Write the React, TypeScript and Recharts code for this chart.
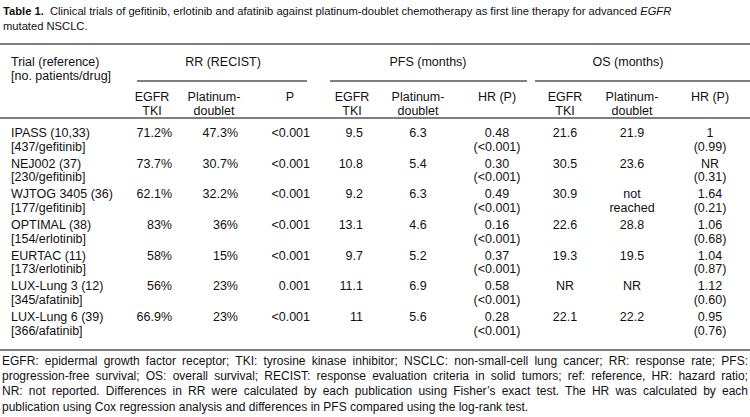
// Table 1 recreated as a Recharts scatter "grid": every cell is a point drawn as text

import { ScatterChart, Scatter, XAxis, YAxis, ReferenceLine } from "recharts";

const trials = [
  "IPASS (10,33)",
  "NEJ002 (37)",
  "WJTOG 3405 (36)",
  "OPTIMAL (38)",
  "EURTAC (11)",
  "LUX-Lung 3 (12)",
  "LUX-Lung 6 (39)",
];
const trialInfo = [
  "[437/gefitinib]",
  "[230/gefitinib]",
  "[177/gefitinib]",
  "[154/erlotinib]",
  "[173/erlotinib]",
  "[345/afatinib]",
  "[366/afatinib]",
];
const rrTki = ["71.2%", "73.7%", "62.1%", "83%", "58%", "56%", "66.9%"];
const rrPlatinum = ["47.3%", "30.7%", "32.2%", "36%", "15%", "23%", "23%"];
const rrP = ["<0.001", "<0.001", "<0.001", "<0.001", "<0.001", "0.001", "<0.001"];
const pfsTki = ["9.5", "10.8", "9.2", "13.1", "9.7", "11.1", "11"];
const pfsPlatinum = ["6.3", "5.4", "6.3", "4.6", "5.2", "6.9", "5.6"];
const pfsHr = ["0.48", "0.30", "0.49", "0.16", "0.37", "0.58", "0.28"];
const pfsHrP = ["(<0.001)", "(<0.001)", "(<0.001)", "(<0.001)", "(<0.001)", "(<0.001)", "(<0.001)"];
const osTki = ["21.6", "30.5", "30.9", "22.6", "19.3", "NR", "22.1"];
const osPlatinum = ["21.9", "23.6", "not\nreached", "28.8", "19.5", "NR", "22.2"];
const osHr = ["1", "NR", "1.64", "1.06", "1.04", "1.12", "0.95"];
const osHrP = ["(0.99)", "(0.31)", "(0.21)", "(0.68)", "(0.87)", "(0.60)", "(0.76)"];

const groupHeaders = ["RR (RECIST)", "PFS (months)", "OS (months)"];
const subHeaders = [
  "EGFR\nTKI", "Platinum-\ndoublet", "P",
  "EGFR\nTKI", "Platinum-\ndoublet", "HR (P)",
  "EGFR\nTKI", "Platinum-\ndoublet", "HR (P)",
];

// layout (pixels)
const W = 750;
const H = 417;
const ROW0 = 132.5;
const PITCH = 30.7;
const LINE = 13.8;
const FONT = "'Liberation Sans', Arial, Helvetica, sans-serif";

const columns = [
  { lines: (i: number) => [trials[i], trialInfo[i]], x: 11, anchor: "start" },
  { lines: (i: number) => [rrTki[i]], x: 172, anchor: "end" },
  { lines: (i: number) => [rrPlatinum[i]], x: 238, anchor: "end" },
  { lines: (i: number) => [rrP[i]], x: 310, anchor: "end" },
  { lines: (i: number) => [pfsTki[i]], x: 363, anchor: "end" },
  { lines: (i: number) => [pfsPlatinum[i]], x: 418, anchor: "middle" },
  { lines: (i: number) => [pfsHr[i], pfsHrP[i]], x: 497, anchor: "middle" },
  { lines: (i: number) => [osTki[i]], x: 565, anchor: "middle" },
  { lines: (i: number) => osPlatinum[i].split("\n"), x: 632, anchor: "middle" },
  { lines: (i: number) => [osHr[i], osHrP[i]], x: 710, anchor: "middle" },
];

const subHeaderX = [152, 214, 290, 352, 418, 497, 565, 632, 710];
const groupHeaderX = [223, 428, 628];
const groupRules = [
  [137, 307],
  [330, 527],
  [535, 750],
];

const bodyCells = columns.flatMap((col) =>
  trials.map((_, i) => ({
    x: col.x,
    y: ROW0 + i * PITCH,
    lines: col.lines(i),
    anchor: col.anchor,
  }))
);

const headerCells = [
  { x: 11, y: 62, lines: ["Trial (reference)", "[no. patients/drug]"], anchor: "start" },
  ...groupHeaders.map((h, k) => ({ x: groupHeaderX[k], y: 62, lines: [h], anchor: "middle" })),
  ...subHeaders.map((h, k) => ({ x: subHeaderX[k], y: 96.5, lines: h.split("\n"), anchor: "middle" })),
];

const CellText = (props: any) => {
  const { cx, cy, payload } = props;
  if (cx == null || cy == null) return null;
  return (
    <text
      x={cx}
      y={cy}
      textAnchor={payload.anchor}
      fontSize={12.5}
      fontFamily={FONT}
      fill="#111"
    >
      {payload.lines.map((l: string, k: number) => (
        <tspan key={k} x={cx} dy={k === 0 ? "0.35em" : LINE}>
          {l}
        </tspan>
      ))}
    </text>
  );
};

const footnote = [
  "EGFR: epidermal growth factor receptor; TKI: tyrosine kinase inhibitor; NSCLC: non-small-cell lung cancer; RR: response rate; PFS:",
  "progression-free survival; OS: overall survival; RECIST: response evaluation criteria in solid tumors; ref: reference, HR: hazard ratio;",
  "NR: not reported. Differences in RR were calculated by each publication using Fisher\u2019s exact test. The HR was calculated by each",
  "publication using Cox regression analysis and differences in PFS compared using the log-rank test.",
];

const App = () => {
  return (
    <div
      style={{
        position: "absolute",
        left: 0,
        top: 0,
        width: W,
        height: H,
        overflow: "hidden",
        background: "#fff",
        fontFamily: FONT,
      }}
    >
      <div style={{ position: "absolute", left: 3, top: 3.5, fontSize: 11.2, lineHeight: "15.5px", color: "#111", whiteSpace: "nowrap" }}>
        <div>
          <b>Table 1.</b>&nbsp; Clinical trials of gefitinib, erlotinib and afatinib against platinum-doublet
          chemotherapy as first line therapy for advanced <i>EGFR</i>
        </div>
        <div>mutated NSCLC.</div>
      </div>

      <ScatterChart width={W} height={H} margin={{ top: 0, right: 0, bottom: 0, left: 0 }}>
        <XAxis type="number" dataKey="x" domain={[0, W]} hide allowDataOverflow />
        <YAxis type="number" dataKey="y" domain={[0, H]} reversed hide allowDataOverflow />

        <ReferenceLine y={44} stroke="#555" strokeWidth={1.5} />
        {groupRules.map(([a, b], k) => (
          <ReferenceLine
            key={k}
            segment={[{ x: a, y: 81 }, { x: b, y: 81 }]}
            stroke="#555"
            strokeWidth={1.5}
          />
        ))}
        <ReferenceLine y={118} stroke="#555" strokeWidth={1.5} />
        <ReferenceLine y={350} stroke="#555" strokeWidth={1.5} />

        <Scatter data={headerCells} shape={CellText} isAnimationActive={false} />
        <Scatter data={bodyCells} shape={CellText} isAnimationActive={false} />
      </ScatterChart>

      <div style={{ position: "absolute", left: 2, top: 354, width: 746, fontSize: 12, lineHeight: "15.2px", color: "#111" }}>
        {footnote.map((line, k) => (
          <div
            key={k}
            style={{
              textAlign: "justify",
              textAlignLast: k < footnote.length - 1 ? "justify" : "left",
              whiteSpace: "nowrap",
            }}
          >
            {line}
          </div>
        ))}
      </div>
    </div>
  );
};

export default App;
